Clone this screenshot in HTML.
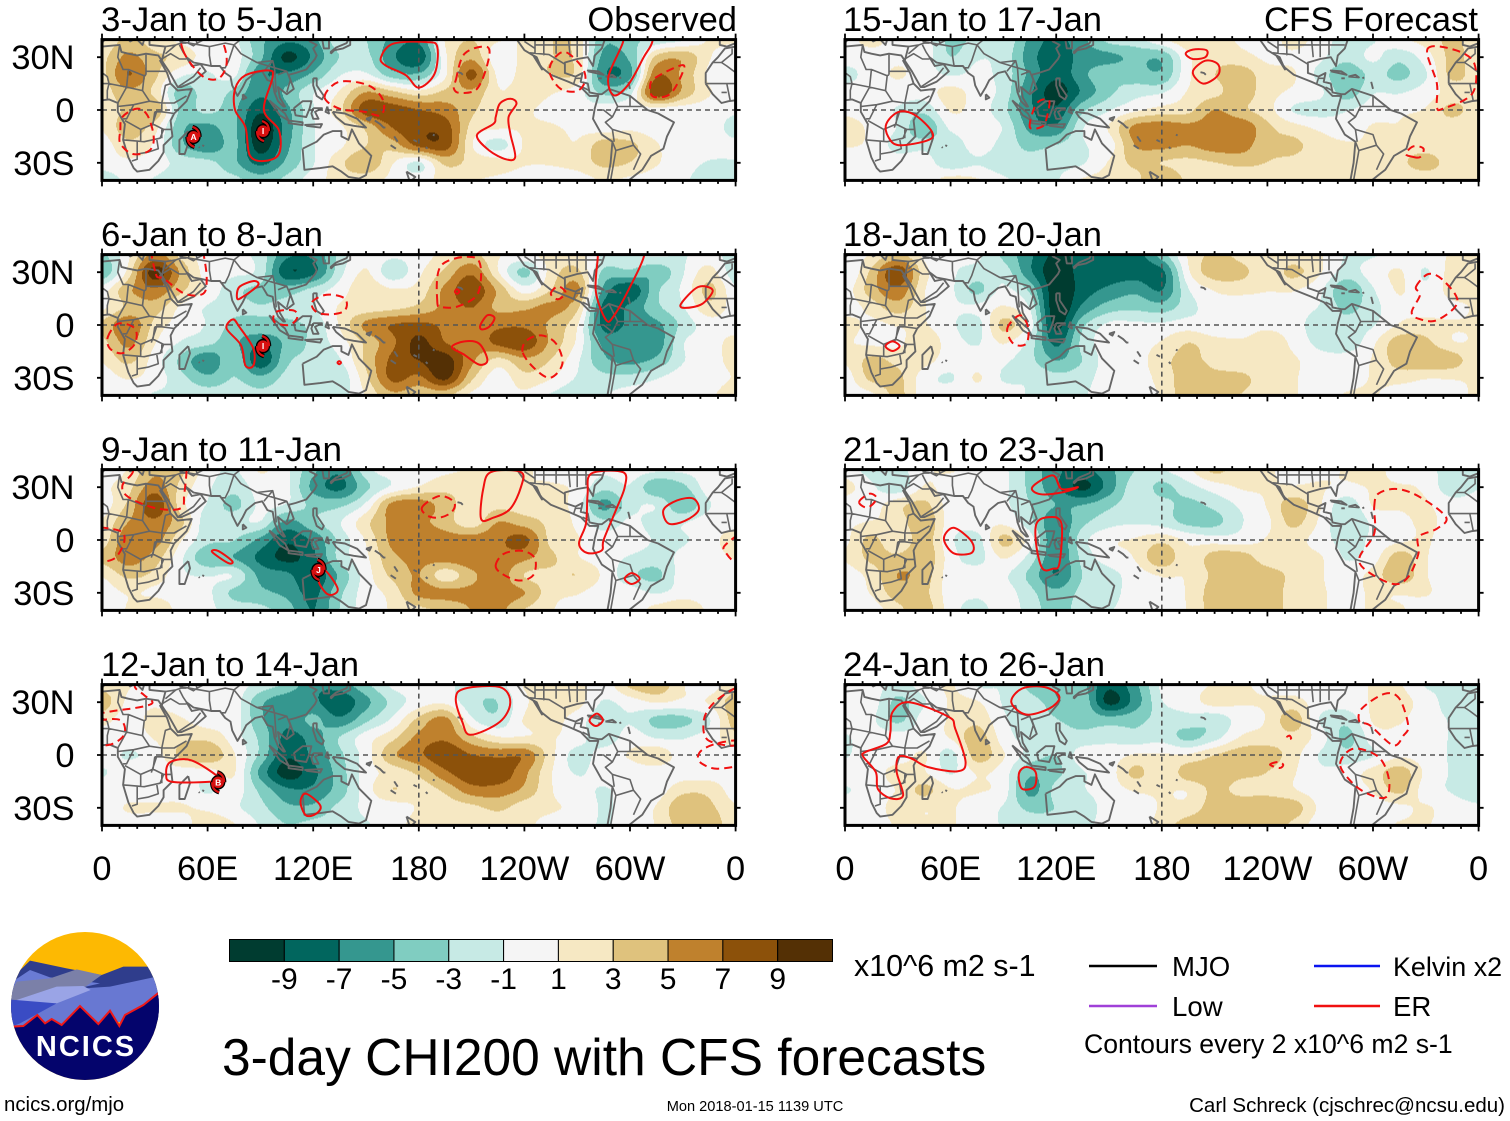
<!DOCTYPE html>
<html lang="en">
<head>
<meta charset="utf-8">
<title>3-day CHI200 with CFS forecasts</title>
<style>
html,body{margin:0;padding:0;background:#fff}
svg{display:block;font-family:"Liberation Sans",Arial,sans-serif;fill:#000}
</style>
</head>
<body>
<svg id="figure" xmlns="http://www.w3.org/2000/svg" width="1510" height="1121" viewBox="0 0 1510 1121">
<rect width="1510" height="1121" fill="#fff"/>
<g id="panels"></g>
<g font-size="34.5">
<text x="101" y="31" textLength="222" lengthAdjust="spacingAndGlyphs">3-Jan to 5-Jan</text>
<text x="737" y="31" text-anchor="end">Observed</text>
<text x="101" y="246" textLength="222" lengthAdjust="spacingAndGlyphs">6-Jan to 8-Jan</text>
<text x="101" y="461" textLength="241" lengthAdjust="spacingAndGlyphs">9-Jan to 11-Jan</text>
<text x="101" y="676" textLength="258" lengthAdjust="spacingAndGlyphs">12-Jan to 14-Jan</text>
<text x="843" y="31" textLength="259" lengthAdjust="spacingAndGlyphs">15-Jan to 17-Jan</text>
<text x="1264" y="31" textLength="214" lengthAdjust="spacingAndGlyphs">CFS Forecast</text>
<text x="843" y="246" textLength="259" lengthAdjust="spacingAndGlyphs">18-Jan to 20-Jan</text>
<text x="843" y="461" textLength="262" lengthAdjust="spacingAndGlyphs">21-Jan to 23-Jan</text>
<text x="843" y="676" textLength="262" lengthAdjust="spacingAndGlyphs">24-Jan to 26-Jan</text>
</g>
<g id="axes" font-size="34.4"></g>
<g id="colorbar"></g>
<text x="854" y="976" font-size="30.4">x10^6 m2 s-1</text>
<text x="222" y="1075" font-size="51.5">3-day CHI200 with CFS forecasts</text>

<g>
<line x1="1089" x2="1157" y1="966" y2="966" stroke="#000" stroke-width="2.4"/>
<text x="1172" y="976" font-size="27.6">MJO</text>
<line x1="1314" x2="1380" y1="966" y2="966" stroke="#0a14f0" stroke-width="2.4"/>
<text x="1393" y="976" font-size="26.9">Kelvin x2</text>
<line x1="1089" x2="1157" y1="1006" y2="1006" stroke="#a040d8" stroke-width="2.4"/>
<text x="1172" y="1016" font-size="27.6">Low</text>
<line x1="1314" x2="1380" y1="1006" y2="1006" stroke="#f01010" stroke-width="2.4"/>
<text x="1393" y="1016" font-size="27.6">ER</text>
<text x="1084" y="1053" font-size="26.6">Contours every 2 x10^6 m2 s-1</text>
</g>

<text x="4" y="1111" font-size="20.4">ncics.org/mjo</text>
<text x="755" y="1111" font-size="14.6" text-anchor="middle">Mon 2018-01-15 1139 UTC</text>
<text x="1505" y="1112" font-size="20.5" text-anchor="end">Carl Schreck (cjschrec@ncsu.edu)</text>

<g>
<clipPath id="logoClip"><circle cx="85" cy="1006" r="74"/></clipPath>
<g clip-path="url(#logoClip)">
<g transform="translate(0 920) scale(.33333)">
<rect x="0" y="0" width="520" height="500" fill="#fdb902"/>
<polygon points="40,170 90,122 200,145 305,165 370,140 470,140 500,300 20,300" fill="#2f3d8c"/>
<polygon points="30,190 90,150 150,172 230,180 300,190 40,250" fill="#6a7bd4"/>
<polygon points="20,240 50,185 150,175 230,148 305,165 245,208 60,240" fill="#7b80a8"/>
<polygon points="250,205 330,200 470,170 500,300 20,320 60,250" fill="#6878d2"/>
<polygon points="50,240 170,200 250,198 272,210 170,250 80,255" fill="#9aa4e6"/>
<polygon points="20,238 170,250 60,310 20,325" fill="#3a4cc4"/>
<polygon points="30,320 70,318 112,285 135,310 155,297 185,315 240,258 295,312 330,272 358,318 375,285 430,255 480,215 520,215 520,500 10,500" fill="#04046c" stroke="#f01818" stroke-width="6"/>
</g>
</g>
<text x="86" y="1056" font-size="29" font-weight="bold" text-anchor="middle" letter-spacing="2" style="fill:#fff">NCICS</text>
</g>
</svg>

<script>
// ---- Chart data: CHI200 anomaly grids, rows 40N..40S every 10 deg, columns 0..360 every 15 deg ----
const panelJan03 = [
[1,3,1.5,.5,-.5,-.5,-4,-6,-5,-1.5,-2.5,-5,-6,1,2.5,1,1,2.5,2,-4,-3,-2,-1,1,1],
[2,5,3,2,0,0,-4,-9,-6,-2.5,-2,-6,-8,.5,4,-.5,1.5,2.5,2,-5,-4,3,4,1,0],
[2,6.5,3,-.5,-1,-.5,-6,-6,-4,-1,-.5,-3.5,-4,.5,7,.5,1.5,2.5,2,-6,-5,6,4,.5,0],
[1.5,4,2,-3.5,-1.5,-3,-6,-4,-1,1,4.5,3,1.5,3,4,1,1.5,1,0,-3,-1.5,8,4,1,.5],
[1.5,3,4,-3,-2,-4,-8,-5,-1,2,7.5,7.5,6.5,5.5,3,1,1,.5,0,0,.5,0,0,0,-.5],
[1,3.5,1.5,-4,-5,-4,-10,-5.5,-1,.5,3,6.5,8,7.5,2,1,1,1,.5,0,.5,0,0,0,-1.5],
[0,2,.5,-4,-6,-4,-9.5,-5,-1,.5,2.5,3.5,7,7.5,1,-1.5,1,1.5,1,3.5,3,1,0,0,-.5],
[0,.5,0,-1.5,-2,-4,-7,-4,-1,2,4,1,-1,3,2,1.5,1,1,1.5,3,2.5,1,0,-1,-1],
[-2,-.5,-1,-2,-2,-2,-3.5,-2,0,1.5,1.5,.5,0,1.5,1,.5,0,0,0,1,.5,0,-.5,-2,-2]];
const panelJan06 = [
[-3,.5,5,2,0,-.5,-1.5,-6,-6,-2,.5,-.5,0,1.5,3,1,.5,1.5,1.5,-1,-1,-.5,-1,0,-2],
[-4,1.5,9.5,4,0,-.5,-1.5,-8,-7,-1.5,1,-2,.5,3,6,1,-3,1.5,3,-3,-3,-4,-1,1.5,-2],
[0,4,6,3,.5,-2,-3,-3.5,-2,0,2,1,1.5,5,8,4,0,2.5,5,-5,-8,-3,-.5,3,-.5],
[.5,3,3.5,.5,-1,-2,-2.5,-2,-1,1,1.5,2,3,5,6.5,4,4,5,3,-7,-6,-3,-1,2,0],
[3,6,2,0,-1,-3,-3,-3,-2,1,5,6.5,7,6,5,6,6,4,1,-7,-6,-5,-2,0,0],
[2,5,1,-1,-2,-4,-6,-4,-2,0,3,6,9,6.5,5,7,8,4,.5,-5,-5,-5.5,-1,0,1.5],
[1,3,0,-3,-6,-3,-8,-3,-2,-1,3,7,8.5,9.5,5,2,4,2.5,-.5,-4,-5,-4,-1,0,1.5],
[0,1,0,-2,-4,-2.5,-4,-2,-2,-2,2,7,6,9,3,0,2,1,-1,-2,-2,-1,0,0,1],
[0,0,-1,-1,-1.5,-1.5,-2,-1.5,-1,-1.5,1,4,3,3,.5,0,.5,-1,-2,-1,0,0,0,.5,2]];
const panelJan09 = [
[0,1,4,3,0,-1,1,-.5,-4,-6,-1.5,0,0,.5,1,1.5,1,.5,0,-.5,0,-.5,-.5,0,0],
[.5,2,5.5,2,-.5,-2,0,-.5,-5,-7,-3,-.5,1,2,2,2,1,1,.5,-2,-1,-4,-3,0,0],
[0,3,8,1.5,-1,-3,-.5,-1,-3,-3,-.5,5,5.5,3.5,1.5,2,1.5,1.5,0,-5,-1.5,-1,-4,-1,0],
[1,4.5,6,3,-2,-1.5,-1,-5,-3,-1,2,5,5,3.5,1.5,4.5,3.5,2,.5,-2,-.5,-1.5,-1,0,0],
[1.5,6,5.5,1,-2,-2.5,-5,-8,-6,-2,1,5,6,5.5,5.5,6,7,2,1,0,0,-1,-1,0,2],
[3,5.5,3.5,-.5,-4,-4.5,-7,-9,-7,-2,.5,4,5,5.5,6,6,5,3,1,0,-1,-1.5,-.5,0,1],
[1,3,2,-.5,-1,-1,-5,-6,-8,-4,0,3,4.5,1.5,4,5.5,2.5,2,2.5,.5,-2,-3,0,0,0],
[0,1,.5,0,-.5,-3,-4,-5,-7,-3,0,1.5,5,5,5,5.5,4.5,1.5,1,0,0,-1,0,0,0],
[0,1,2.5,0,-.5,-1.5,-2,-3.5,-6.5,-2.5,0,1,2,3,4.5,5,2.5,1,0,0,0,1.5,2.5,.5,0]];
const panelJan12 = [
[2,1,0,0,0,0,-1.5,-3,-6,-5.5,-3,-.5,0,-.5,-1.5,-1.5,1,1.5,1.5,0,3,4,1,0,2],
[3.5,.5,.5,0,0,0,-4,-6,-6,-8,-5,-2,0,.5,-2,-2.5,.5,2,1.5,-1,0,1,.5,1,3.5],
[1.5,0,1.5,1,0,0,-4,-6,-4,-6,-3,-.5,3,5,-.5,-2,1,1.5,0,-2,-1,-3,-3,-1,3.5],
[0,0,1,2,2,0,-3,-7,-5.5,-2.5,0,2,5,6,3,1,1,1,0,-2,0,-1,-1,0,2],
[0,-1,0,3,4,1,-3,-8,-6,-3,0,4,6,8,6.5,6,6,1.5,-1.5,0,1,2,0,0,0],
[-1,0,0,0,0,1,-5,-9.5,-7,-3.5,0,1.5,3,6,8,8,5,1,-1,0,0,0,0,0,0],
[0,0,0,0,-1,0,-3,-6,-6,-3.5,0,2.5,1.5,3,5.5,5.5,4,1,0,-1,0,0,2,2,0],
[0,1,1,1,.5,-.5,-2,-4,-4,-2,-.5,0,1,1.5,2,3,1.5,1,.5,-1,0,1,4,3,1],
[0,0,0,0,2,1,-1,-2.5,-2,-1.5,-1,0,1.5,1,1,1,1,.5,0,-1,0,1,3.5,4,1]];
const panelJan15 = [
[0,1.5,0,0,-3,-2,-1,-5,-7,-5,-2,-1.5,.5,2,2,.5,0,1.5,0,-1.5,-1,.5,1.5,3,1.5],
[0,0,.5,0,-2.5,-1,-1.5,-5.5,-8,-5.5,-5,-4,-4,.5,2,1.5,.5,.5,-.5,-2,-.5,-2,0,3,1.5],
[-1.5,0,1,0,-1,-.5,-1.5,-5,-8,-5,-3,-3.5,-4,.5,2.5,3.5,1.5,1,-1.5,-4,-2,-3,-1,3,1.5],
[0,0,0,0,1.5,0,-1.5,-6,-9.5,-6,-3,-1.5,-1,1,2,3.5,1.5,.5,-.5,-3.5,-1,-1,0,1.5,2],
[.5,0,-1,-2,1,0,-2,-6,-8,-3,-1,.5,1.5,2,4.5,3,1.5,-1,-1.5,-1,0,.5,1,3,1.5],
[1.5,.5,-1,-4,-.5,0,-1,-5,-6,-1,1,5,5.5,5,5.5,6,3,1.5,.5,0,1,1,2,1.5,1.5],
[1,.5,-1.5,-1.5,-2,0,-1.5,-3,-2.5,-1,0,4.5,5,4.5,5.5,5.5,3,3,1.5,1,1,1.5,1.5,1,1.5],
[0,0,0,0,-2,-1,-2,-2,-1.5,-1,1,3,2.5,2,2.5,3,2.5,2,1,1,1,2,3.5,1.5,1.5],
[0,0,0,0,1.5,1,-.5,-1.5,-1,1,1.5,2,4.5,2,1.5,1.5,1.5,1.5,1,1,1,1,1,1,1.5]];
const panelJan18 = [
[0,1,3,.5,-.5,-.5,-3,-6,-9,-7.5,-7.5,-7.5,-3.5,1,3,2,1,1.5,1,-1,-1,0,0,1,1],
[-1,3,8,1.5,-.5,-1.5,-1.5,-6,-10,-7.5,-7.5,-7.5,-7,.5,3.5,3,1.5,3,1,-1.5,0,1,-1,1.5,1],
[0,3.5,6,1,-.5,-3,-.5,-3,-10,-7.5,-6,-5,-6.5,-1,1,1.5,1,1,-.5,-4,-1,1,-.5,1.5,1],
[0,1.5,3.5,1,-.5,-.5,1,-1,-10,-6,-3.5,-3,-3.5,-1.5,0,-.5,-.5,0,-1,-3,-1.5,.5,0,.5,1],
[1.5,.5,1,1,-.5,-1.5,3,0,-9,-3,-.5,-.5,-.5,0,-.5,0,.5,0,-2,-2,-1,1,1.5,1,1],
[1,.5,.5,2,0,-1,1,-1.5,-7,-2,0,0,1,2.5,1.5,1,1.5,.5,-1.5,-2,.5,3.5,3,1,1],
[1,3,2,1.5,0,0,-.5,-2,-4.5,-2.5,0,0,2,3,2,1,1,1,0,0,1,3.5,4,3.5,1],
[0,3,3,0,-1,1,-1,-1,-2,-1.5,0,0,1.5,3.5,3,3,1.5,1,0,0,1,1.5,1,1,1],
[0,.5,3,0,0,0,0,-1,-1.5,-1,0,.5,1,4,3,2.5,1.5,1,0,1,1,0,0,.5,1]];
const panelJan21 = [
[0,-1.5,-1.5,.5,1,0,-.5,-3,-6,-7,-5,-2.5,-1,.5,3,1.5,1,.5,.5,1,1.5,0,0,-2,-2],
[1.5,-.5,-2,1,0,-.5,-.5,-3,-6,-9,-5.5,-1.5,-3,-1.5,0,1,1,1,1,.5,1,1,.5,-2,-1],
[0,0,2,3,0,-.5,-.5,-2.5,-4.5,-4.5,-3,-1.5,-2,-3,-2,-.5,1,3.5,1,-2,1,1,1,0,0],
[.5,1,1.5,4,0,0,.5,-2,-6,-3,-1.5,-1,-1.5,-3,-3,-1,.5,3,.5,-2.5,-.5,.5,1,.5,0],
[.5,3,1,3.5,-.5,-1.5,3,0,-6,-1.5,.5,1,2,.5,0,0,1,1.5,0,-1.5,-.5,.5,1,0,0],
[1,3,3,4,0,-1.5,1,-1.5,-6,-2,0,1,4,1,3.5,3.5,1.5,1.5,1,-1,0,3.5,1,0,0],
[0,1.5,4.5,3.5,0,0,-.5,-3,-6.5,-2.5,-1.5,0,1,1,3,4,3.5,2,1,0,1.5,4,1,0,0],
[0,1,3.5,3,0,-.5,0,-2,-4,-2,-1.5,0,.5,1,3.5,3.5,4,1.5,1,.5,1,1,1,0,0],
[0,0,2,3.5,0,-1.5,0,-1.5,-3.5,-1.5,-1,0,0,1,3.5,4,4,1.5,1,.5,1,1,0,0,0]];
const panelJan24 = [
[0,0,-1.5,0,1,-1,-1,-3,-4,-4,-8,-5,-.5,0,1,1,.5,0,0,0,1,1,-1,-1,-1],
[0,0,-3,-1,1,1,-1,-2,-3,-3,-9,-5.5,-1,0,1.5,1,1,1.5,0,0,1,1.5,0,-1.5,-1],
[0,-.5,-3,0,1,2,-.5,-2,-2.5,-3,-3.5,-3,-2,-1.5,-2,0,1,3.5,-1,-2,1,1,0,-1,-1],
[-1,0,0,0,1,3.5,0,-1.5,-2,-2,-1.5,-2,-1.5,-3,-1.5,1,1.5,2,0,-3,0,.5,0,-1,-1.5],
[-1,0,0,1,-1.5,3.5,1,-1.5,-2.5,0,0,1,1,1,2.5,3.5,3.5,1.5,-1,-2,-1,.5,0,-1,-1],
[0,0,1.5,1,-1,1,0,-4,-3,-1,0,3,1,3.5,3.5,3,2.5,1,-.5,0,1.5,3.5,.5,-1,-1.5],
[-1,0,1,3,1,1,0,-5,-2,-1,0,1,1,1,3,2,2,1,0,0,1,3,0,-1,-2],
[0,0,1.5,1,1,0,-1,-3,-2.5,-2,0,0,1,1.5,3.5,4,4,3.5,.5,0,0,.5,1,0,-.5],
[0,0,1,1,1,0,-1,-1.5,-2,-1.5,0,0,1.5,3.5,4,4,4,2,0,0,0,1,1,0,0]];
const panelGrids = [panelJan03,panelJan06,panelJan09,panelJan12,panelJan15,panelJan18,panelJan21,panelJan24];
const panelColumn = [0,0,0,0,1,1,1,1];
const panelRow = [0,1,2,3,0,1,2,3];

const bandLevels = [-9,-7,-5,-3,-1,1,3,5,7,9];
const bandColors = ['#003c30','#01665e','#35978f','#80cdc1','#c7eae5','#f5f5f5','#f6e8c3','#dfc27d','#bf812d','#8c510a','#543005'];
const lonTicks = [0,60,120,180,240,300,360];
const lonTickLabels = ['0','60E','120E','180','120W','60W','0'];
const latTicks = [30,0,-30];
const latTickLabels = ['30N','0','30S'];

// ---- Red ER contours per panel: flat lon,lat lists ----
const solidContours = [
[[75.6,12,81.5,19.7,94.5,22.5,97,18.8,92,0,100.5,-11.5,100.5,-25,92,-29,84,-25.8,81.5,-9.7,75.6,0],
 [158.5,30,165.6,37.7,184.6,38.6,190.5,35.8,189,20.6,180,12.7,172.7,19.7,161,25.4],
 [223.7,-4,226,3.6,232,6.4,235.5,3.6,231,-4,232,-13.4,234.8,-26.7,229.6,-28,220,-23,213,-14.4,222.5,-7.8],
 [296,38.6,287.7,18.8,291,8.3,299.5,15,307.8,30,312.6,38.6,312,48,296,48]],
[[76.8,15,78,21.6,86.3,25,88.6,22.5,80,16],
 [70.8,-2,74.4,3.2,78,-1,86,-13.4,86,-23,81.5,-23,79,-11.5],
 [200.5,19,201.7,20.3,203,19,201.7,17.7],
 [215,0,219,5.5,223,4,220,-1,215.7,-2.5],
 [198.8,-12.5,206,-9.3,214.3,-10.6,219,-20,214.3,-22.5,206,-17],
 [281.7,38.6,280.6,18.8,286.5,2.7,291,5.5,299.5,20.6,307.8,38.6,307,48,282,48],
 [329,12,338.7,21.6,347,19.7,341,12,331.5,9.7],
 [133.8,-21.4,134.8,-20.5,135.8,-21.4,134.8,-22.3]],
[[62.6,-6.8,66,-6.2,74,-12,71.6,-13],
 [215.4,12,216.6,29,221,38.6,238,38.6,238,30,232,17.8,222.5,12.7],
 [275.9,26,278,37.7,295.9,38.6,297,30,292,17,285,0,284,-5.9,275.8,-7.4,271,-2,275,9.3],
 [319,17,326.7,22.5,336,23.5,339,17,331.5,11,322,9.3],
 [297,-22,301,-18.8,305.5,-22,301,-25],
 [123,-23,126.5,-17.2,133.6,-26.7,132.4,-30.5,127.7,-30.5]],
[[36.5,-10.6,38.9,-4,50.7,-3,66,-12.5,63.7,-15,40,-15.3],
 [201,32,206,37.7,226,38.6,232,30,226,18.8,209.5,11.5,204.7,18.8],
 [112.8,-26.7,115.9,-22,124,-28.6,121.8,-33.3,115.9,-34.3],
 [277,19.7,281.2,23.5,284.6,19.7,280.6,16.5]],
[[23.5,-7.8,30.6,-1,40,-3,49.5,-12.5,47,-17.2,30.6,-20,24.6,-15.3],
 [193.6,32,197.6,34.3,205.4,34,204.7,30,197.6,29],
 [197.6,21.6,204.7,28,211.9,26,211.9,19.7,203.5,15]],
[[23,-12,27,-9.3,31,-12,27,-14.8]],
[[56.2,.8,61.4,7,69.7,1.7,73.2,-4,70.9,-7.8,61.4,-7.4],
 [106.4,30,118,36.7,123,29,132.4,30,123,27,111,26],
 [108.8,9.3,115.9,13,123,9.3,121.8,-13.4,118,-16.3,112.3,-16.3,108.8,-4]],
[[94.5,30,100.5,37.7,113.5,38.6,121.8,33,115.9,26.3,102.8,23],
 [25.8,13,27,24.4,36.5,30,59,21.6,62.6,15,68.5,-4,63.7,-9.3,47,-6.8,37.7,-2,30.6,-1,29.4,-9.7,33,-23,25.8,-24.6,18.7,-19.3,17.5,-9.7,10.4,-1,11.6,1.7,23.5,6.4],
 [98.8,-10.6,102.8,-6.8,108.3,-9.7,107.6,-18,100.5,-19.1]]
];
const dashedContours = [
[[126.5,7.4,134.8,16,151.4,14,159.7,5.5,158.5,-3,149,-1,134.8,.8],
 [10.4,-11.5,11.6,-4,19.9,.8,25.8,-3,29.4,-15.3,27,-23,17.5,-25,10.4,-19],
 [201,17,206,32,219,35.8,219,26,213,12,203.5,9.7,200,12],
 [256,28,254.5,20.6,260.6,12,270,10.8,274.6,17,272.3,25,263,33],
 [311.4,12,313.7,17.8,329,25.4,330,21.6,323,9.3,313.7,7.4],
 [46,34,56.5,19.7,66,17.8,70.8,26.3,68.5,38.6,60,48,46,48]],
[[3.3,-6.8,9.2,.8,18.7,-2,18.7,-10.6,11.6,-16,4.5,-13.4],
 [30.6,29,35.3,26.3,47,17.8,57.5,17.8,59.5,26.3,58,38.6,56,48,30,48],
 [119.4,13,127.7,17.2,138,15,138,8.3,130,6,121.8,7.4],
 [99,7.4,108.7,8.3,111,4.5,106.4,0,98,1.7],
 [190.5,13,192.9,34,213,37.7,214,18.8,203.5,11,194,10],
 [239,-15.3,241.4,-8.7,249.7,-5.9,258,-10.6,261.6,-22,254.5,-30,245,-24],
 [255,17.8,259,22,263.4,18.4,259,14.6]],
[[17.5,38.6,11.6,31,15,24.4,30.6,18,44.8,18,46.7,26,48,38.6,48,48,18,48],
 [-8,5.5,9.2,5.5,12.8,0,8,-9.7,0,-12.5,-8,-12.5],
 [368,5.5,354,-3,355,-8,360,-12.5,368,-12],
 [182,18.8,191.7,25,200,21.6,198.8,16,191.7,12.7,184.6,14],
 [223.7,-14.4,228.4,-7.8,239,-6.2,246,-10.6,245,-20,236.7,-23,227,-19]],
[[-10,25,9,25.4,28,29,24,34,18.7,38.6,18,47,-10,47],
 [-5,7,5,6,12.8,12,10,20,-5,18],
 [338.6,-1,342,3.6,353,7.4,366,7.4,366,-4,350,-7.8,341,-5],
 [360,38,348,30,342,20,345,8,366,8,366,38]],
[[105,-9.7,108.8,3.6,115.9,5.5,114.7,-4,112.3,-9.3],
 [323,-26.7,318.6,-25,323,-20.6,328.7,-22,326.8,-26.7],
 [331,34.8,347,34,357.6,26.3,356.4,9.3,339.9,.8,336.3,1.7,336.3,15]],
[[92.2,-2,99.3,5.5,104,-1,103,-10.6,95.7,-10.6],
 [324.4,21.6,331.5,29,339.9,25.4,348,13,336.3,2.7,325.8,3.6,322,7.4,326.7,17]],
[[8,21.6,14,26.3,18,23.5,12.8,18.4],
 [300.7,18.8,303,26.3,313.7,29,326.7,24.4,341.5,13,336.3,6.4,325.8,1.7,325.8,-7.8,320,-21,311.4,-25,296,-17.2,292.4,-9.7,300.7,3.6]],
[[292.4,18.8,293.6,26.3,306.6,34.8,315,32,320,16.8,317.3,11,311.4,5.5,298.3,16.8],
 [281.3,-5,288.9,3.6,303,-1,309,-13.4,307.4,-24,297,-22,287.7,-15.3],
 [241.5,-5.5,246,-4,249,-5.5,247,-7.4],
 [251,10,252.5,11,253.5,9.5,252,9]]
];
const stormPanel = [0,0,1,2,3];
const stormLon = [52,91.5,91.5,123,66];
const stormLat = [-15.3,-12,-12,-17,-15.5];
const stormLetter = ['A','I','I','J','B'];

// ---- Simplified geography (lon,lat flat lists; negative lon = west) ----
const coastLines = [
[-17,15,-17,21,-13,27,-10,30,-6,35,0,36,10,37,11,33,15,32,20,31,25,32,32,31,34,28,33,28,37,21,39,15,43,11,51,12,48,5,41,-2,39,-6,40,-15,35,-20,35,-24,32,-29,27,-34,20,-35,18,-33,15,-27,12,-17,13,-8,9,-1,9,4,4,6,-4,5,-8,4,-13,9,-17,15],
[-9,41,-9,37,-5,36,0,38,3,42,8,44,13,42,16,39,18,40,14,45],
[20,40,23,37,24,40,27,41,27,37,36,36,35,32,34,28,38,22,43,13,45,13,52,16,59,22,56,26,51,25,48,30,52,27,57,26,62,25,67,25,70,21,73,19,74,14,77,8,80,13,82,17,87,21,91,22,94,17,97,16,98,10,100,5,103,2,104,2,101,7,100,13,105,9,109,12,106,20,110,21,116,23,121,29,122,31,120,35,122,37,118,39,121,41],
[125,41,126,35,129,35,129,41],
[130,32,132,34,137,35,141,37,141,42,139,38,133,35.5,130,33,130,32],
[95,5.5,104,-2,106,-6,101,-3,95,5.5],[106,-6,114,-7,114,-8.5,106,-7.5,106,-6],
[115,-8.5,125,-8,124,-10,116,-9],
[109,1,114,5,119,5,118,1,116,-4,110,-3,109,1],
[120,1,125,1,121,-1,123,-5,120,-5,119,-2,120,1],
[120,18,122,18,122,14,126,8,125,6,122,8,120,14,120,18],[128,2,129,-2,127,-1,128,2],
[131,-1,138,-2,145,-5,150,-10,143,-9,138,-8,133,-4,131,-1],
[150,-5,153,-4,152,-6,150,-5],[155,-6,158,-8,160,-10,161,-10],
[166,-15,168,-18],[164,-20,167,-22],[177,-17,179,-18],[-172,-14,-171,-14.5],[-176,-21,-175,-22],
[114,-22,122,-18,126,-14,131,-12,136,-12,136,-15,140,-17,142,-11,146,-19,153,-26,150,-37,146,-39,140,-38,136,-35,131,-32,124,-33,115,-34,114,-22],
[49,-12,50,-16,47,-25,44,-25,44,-17,49,-12],[80,9,82,7,80,6,80,9],[57,-20,58,-20.5],[55,-21,55.5,-21.5],
[173,-35,178,-38,175,-41,173,-35],
[-155,20,-156,21,-158,21.5],
[-125,41,-120,34,-115,31,-110,23,-113,30,-115,31,-110,24,-105,20,-95,16,-88,13,-83,8,-78,8,-80,1,-81,-5,-76,-14,-70,-18,-71,-30,-73,-41],
[-62,-41,-57,-37,-53,-34,-48,-26,-41,-22,-39,-15,-35,-7,-44,-2,-50,0,-60,8,-72,12,-76,9,-78,9,-83,10,-84,15,-88,16,-87,21,-91,19,-97,21,-97,27,-90,29,-84,30,-81,25,-80,31,-76,35,-74,41],
[-84,22,-75,20,-78,22,-84,22.5,-84,22],[-74,19,-68,18.5,-70,20,-74,19],[-78,18,-76,18],[-66,18,-65,18.5],[-61,16,-60,12]
];
const borderLines = [
[25,31.5,25,20],[25,22,37,22],[25,20,24,19.5,15,23,12,23,9,30,10,37],[15,23,14,13],[24,19.5,23,11,27,5,34,4,41,4,48,8],
[34,4,36,14,39,15],[14,13,4,15,3,19,-5,25,-8,27,-13,27],[4,15,3,11,3,6],[14,13,9,4],[14,13,23,11],[9,2,18,3,27,5],[18,3,14,-5,12,-5],
[30,-1,34,-1,41,-2],[30,-1,29,-8,22,-11,13,-6],[29,-8,35,-11,40,-11],[12,-17,24,-18,33,-16,35,-11],[22,-11,22,-18],[20,-18,20,-28,17,-29],[20,-25,26,-24,32,-22,31,-16],
[-12,15,-5,15,4,15],[-5,15,-3,5],[-8,10,-5,10],[-17,15,-12,15],[-8,27,-2,32,-2,35],[34,4,34,-1],[31,-1,28,-10],[34,-11,34,-16],
[36,36,42,37,45,38,47,41],[34,29,39,32,44,29,48,29],[36,32,42,37],[44,37,46,33,48,30],[45,38,48,38],[44,39,61,36,61,31,62,25],[61,36,70,38,75,37,72,28,70,24,68,24],
[75,37,79,32,88,27,97,28,92,22],[97,28,98,24,99,10],[100,20,105,22,107,17,105,10],[80,41,75,37],[43,13,52,19,56,24],[50,41,49,38,52,36.5,54,38,53,41],[60,41,54,38],
[88,27,98,24,105,22],[75,37,80,41],
[-114,41,-114,32],[-109,41,-109,31],[-102,41,-102,32],[-95,41,-94,30],[-90,41,-90,30],[-85,41,-85,31],[-114,37,-76,37],[-124,40,-74,40],[-117,32.5,-106,31.5,-97,26],[-120,39,-114,35],
[-92,15,-91,18,-88,18],[-83,11,-87,13],[-72,12,-67,2,-70,-4,-74,-7,-70,-11,-69,-18],[-60,8,-60,2,-67,2],[-70,-11,-60,-14,-58,-20,-54,-25,-58,-34],[-70,-18,-68,-23,-71,-40],[-68,-23,-58,-20],[-78,0,-75,0,-70,-4],[-60,2,-52,2]
];

// ---- Axis functions ----
const PX_PER_DEG = 1.76;
const panelLeft = [102,845];
const panelZeroY = [110,325,540,755];
function xScale(col,lon){return panelLeft[col]+lon*PX_PER_DEG;}
function yScale(row,lat){return panelZeroY[row]-lat*PX_PER_DEG;}
const NS = 'http://www.w3.org/2000/svg';
function make(tag,attrs,parent){
  const n=document.createElementNS(NS,tag);
  for(const k in attrs)n.setAttribute(k,attrs[k]);
  parent.appendChild(n);
  return n;
}
function bandIndex(v){let i=0;while(i<bandLevels.length&&v>=bandLevels[i])i++;return i;}
function cr(a,b,c,d,t){return b+.5*t*(c-a+t*(2*a-5*b+4*c-d+t*(3*(b-c)+d-a)));}
function widen(v){const a=Math.abs(v);const w=a<=3?a*1.18:a+.54;return v<0?-w:w;}
function sample(grid,lon,lat){
  const nr=grid.length,nc=grid[0].length;
  const fx=lon/15,fy=(40-lat)/10;
  const ix=Math.min(nc-2,Math.max(0,Math.floor(fx))),iy=Math.min(nr-2,Math.max(0,Math.floor(fy)));
  const tx=fx-ix,ty=fy-iy;
  const rows=[];
  for(let j=-1;j<=2;j++){
    const r=grid[Math.max(0,Math.min(nr-1,iy+j))];
    const g=k=>r[Math.max(0,Math.min(nc-1,k))];
    rows.push(cr(g(ix-1),g(ix),g(ix+1),g(ix+2),tx));
  }
  return widen(cr(rows[0],rows[1],rows[2],rows[3],ty));
}
function closedSmooth(pts,col,row){
  const p=[];
  for(let i=0;i<pts.length;i+=2)p.push([xScale(col,pts[i]),yScale(row,pts[i+1])]);
  const n=p.length;
  let d='M'+p[0][0].toFixed(1)+' '+p[0][1].toFixed(1);
  for(let i=0;i<n;i++){
    const a=p[(i-1+n)%n],b=p[i],c=p[(i+1)%n],e=p[(i+2)%n];
    d+='C'+(b[0]+(c[0]-a[0])/6).toFixed(1)+' '+(b[1]+(c[1]-a[1])/6).toFixed(1)+' '+(c[0]-(e[0]-b[0])/6).toFixed(1)+' '+(c[1]-(e[1]-b[1])/6).toFixed(1)+' '+c[0].toFixed(1)+' '+c[1].toFixed(1);
  }
  return d+'Z';
}
function linePath(list,col,row,shift){
  let d='';
  for(const pts of list){
    for(let i=0;i<pts.length;i+=2){
      d+=(i?'L':'M')+xScale(col,pts[i]+shift).toFixed(1)+' '+yScale(row,pts[i+1]).toFixed(1);
    }
  }
  return d;
}

// ---- Panels ----
const panelsRoot=document.getElementById('panels');
const defs=make('defs',{},panelsRoot);
panelGrids.forEach(function(grid,idx){
  const col=panelColumn[idx],row=panelRow[idx];
  const x0=xScale(col,0),y0=yScale(row,40),w=360*PX_PER_DEG,h=80*PX_PER_DEG;
  const clip=make('clipPath',{id:'clip'+idx},defs);
  make('rect',{x:x0,y:y0,width:w,height:h},clip);
  const g=make('g',{},panelsRoot);
  
  
  const inner=make('g',{'clip-path':'url(#clip'+idx+')'},g);

  // filled bands (one path per colour band)
  const paths=bandColors.map(function(){return '';});
  const W=Math.ceil(w),H=Math.ceil(h);
  for(let py=0;py<H;py++){
    const lat=40-(py+.5)/PX_PER_DEG;
    let start=0,cur=bandIndex(sample(grid,.25/PX_PER_DEG,lat));
    for(let px=1;px<=W;px++){
      const b=px<W?bandIndex(sample(grid,(px+.5)/PX_PER_DEG,lat)):-1;
      if(b!==cur){
        paths[cur]+='M'+(x0+start).toFixed(1)+' '+(y0+py).toFixed(1)+'h'+(px-start)+'v1h-'+(px-start)+'z';
        start=px;cur=b;
      }
    }
  }
  paths.forEach(function(d,i){
    if(!d)return;
    const band=make('path',{d:d,fill:bandColors[i],'shape-rendering':'crispEdges'},inner);
    
    
  });

  // geography
  [0,360].forEach(function(shift){
    const border=make('path',{d:linePath(borderLines,col,row,shift),fill:'none',stroke:'#666','stroke-width':1.6,'stroke-linejoin':'round'},inner);
    
    
    const coast=make('path',{d:linePath(coastLines,col,row,shift),fill:'none',stroke:'#666','stroke-width':1.9,'stroke-linejoin':'round'},inner);
    
    
  });

  // reference lines
  const eq=make('line',{x1:x0,x2:x0+w,y1:yScale(row,0),y2:yScale(row,0),stroke:'#555','stroke-width':1.6,'stroke-dasharray':'5 4'},inner);
  
  
  const dl=make('line',{x1:xScale(col,180),x2:xScale(col,180),y1:y0,y2:y0+h,stroke:'#555','stroke-width':1.6,'stroke-dasharray':'5 4'},inner);
  
  

  // ER contours
  solidContours[idx].forEach(function(pts){
    const c=make('path',{d:closedSmooth(pts,col,row),fill:'none',stroke:'#f01010','stroke-width':2},inner);
    
    
  });
  dashedContours[idx].forEach(function(pts){
    const c=make('path',{d:closedSmooth(pts,col,row),fill:'none',stroke:'#f01010','stroke-width':2,'stroke-dasharray':'8 5'},inner);
    
    
  });

  // storm symbols
  stormPanel.forEach(function(p,s){
    if(p!==idx)return;
    const t=make('g',{transform:'translate('+xScale(col,stormLon[s])+' '+yScale(row,stormLat[s])+')'},inner);
    
    
    const arms='M-1 -10Q6 -8 6 0M1 10Q-6 8 -6 0';
    make('path',{d:arms,fill:'none',stroke:'#000','stroke-width':4.4},t);
    make('circle',{r:6.5,fill:'#d81010',stroke:'#000','stroke-width':1.4},t);
    make('path',{d:arms,fill:'none',stroke:'#d81010','stroke-width':2.2},t);
    const lab=make('text',{y:3,'text-anchor':'middle','font-size':8.5,'font-weight':'bold',style:'fill:#fff'},t);
    lab.textContent=stormLetter[s];
    
    
  });

  // frame and ticks
  let tick='';
  for(let lon=0;lon<=360;lon+=10){
    const len=lon%60===0?6:3.5,x=xScale(col,lon);
    tick+='M'+x+' '+y0+'v-'+len+'M'+x+' '+(y0+h)+'v'+len;
  }
  latTicks.forEach(function(lat){
    const y=yScale(row,lat);
    tick+='M'+x0+' '+y+'h-5M'+(x0+w)+' '+y+'h5';
  });
  const tk=make('path',{d:tick,stroke:'#000','stroke-width':1.8,fill:'none'},g);
  
  
  const fr=make('rect',{x:x0,y:y0,width:w,height:h,fill:'none',stroke:'#000','stroke-width':3},g);
  
  
});

// ---- Axis labels ----
const axesRoot=document.getElementById('axes');
[0,1,2,3].forEach(function(row){
  latTicks.forEach(function(lat,i){
    const t=make('text',{x:74.5,y:yScale(row,lat)+12,'text-anchor':'end'},axesRoot);
    t.textContent=latTickLabels[i];
    
    
  });
});
[0,1].forEach(function(col){
  lonTicks.forEach(function(lon,i){
    const t=make('text',{x:xScale(col,lon),y:880,'text-anchor':'middle'},axesRoot);
    t.textContent=lonTickLabels[i];
    
    
  });
});

// ---- Colour bar ----
const cbRoot=document.getElementById('colorbar');
const cbX=229.5,cbW=603,cbY=939.5,cbH=22;
const boxW=cbW/bandColors.length;
bandColors.forEach(function(c,i){
  const r=make('rect',{x:cbX+i*boxW,y:cbY,width:boxW,height:cbH,fill:c,stroke:'#000','stroke-width':1},cbRoot);
  
  
});
bandLevels.forEach(function(v,i){
  const t=make('text',{x:cbX+(i+1)*boxW,y:989,'text-anchor':'middle','font-size':30},cbRoot);
  t.textContent=String(v);
  
  
});
</script>
</body>
</html>
